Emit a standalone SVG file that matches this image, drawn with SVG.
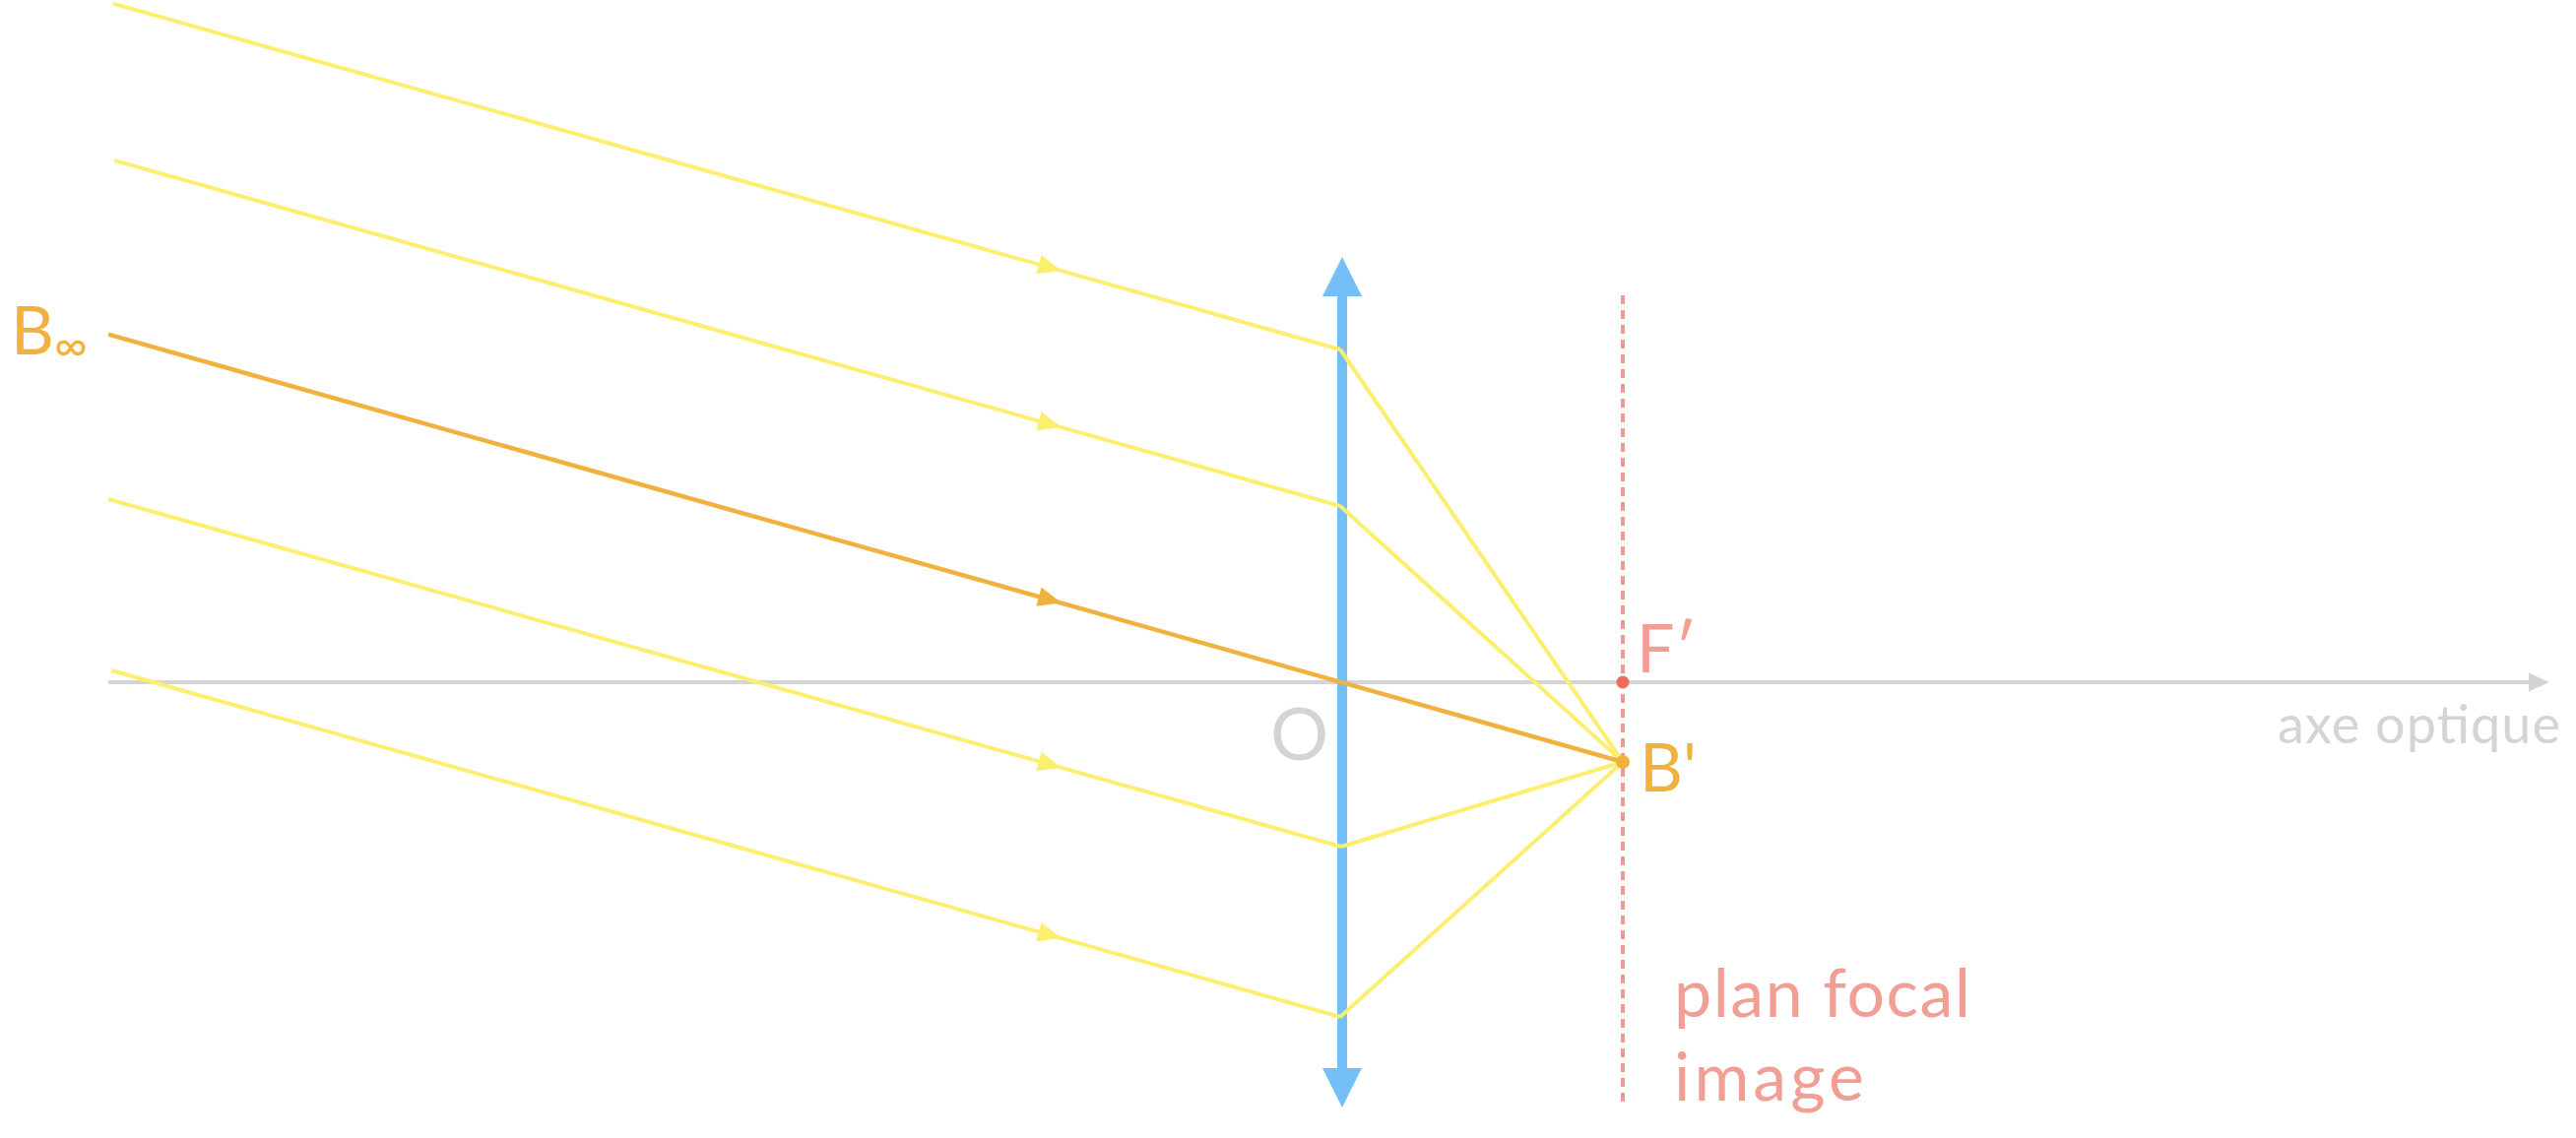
<svg xmlns="http://www.w3.org/2000/svg" width="2616" height="1156" viewBox="0 0 2616 1156">
<style>
.lbl{font-family:Lato,"Open Sans","Liberation Sans",sans-serif;}
.ray{fill:none;stroke:#FCEE6E;stroke-width:4;stroke-linejoin:round}
.chief{fill:none;stroke:#F1B13F;stroke-width:4.5;stroke-linejoin:round}
.inY{marker-mid:url(#arrY)}
.inO{marker-mid:url(#arrO)}
</style>
<defs>
<marker id="arrY" viewBox="0 -10 24 20" refX="24" refY="0" markerWidth="24" markerHeight="20" markerUnits="userSpaceOnUse" orient="auto" overflow="visible">
<path d="M0,-10 L24,0 L0,10 z" fill="#FCEE6E"/>
</marker>
<marker id="arrO" viewBox="0 -10 24 20" refX="24" refY="0" markerWidth="24" markerHeight="20" markerUnits="userSpaceOnUse" orient="auto" overflow="visible">
<path d="M0,-10 L24,0 L0,10 z" fill="#F1B13F"/>
</marker>
</defs>
<rect width="2616" height="1156" fill="#FFFFFF"/>

<g id="axe-optique">
<line x1="110" y1="693" x2="2570" y2="693" stroke="#D4D4D4" stroke-width="4"/>
<polygon points="2589,693 2568,683.5 2568,702.5" fill="#D4D4D4"/>
<text class="lbl" x="2313" y="755" font-size="54" fill="#D4D4D4" textLength="287" lengthAdjust="spacing">axe optique</text>
</g>

<g id="plan-focal">
<line x1="1648" y1="300" x2="1648" y2="1123" stroke="#EE9C93" stroke-width="4" stroke-dasharray="9 6"/>
<text class="lbl" x="1700" y="1033" font-size="68" fill="#F19E94" textLength="301" lengthAdjust="spacing">plan focal</text>
<text class="lbl" x="1700" y="1118" font-size="68" fill="#F19E94" textLength="193" lengthAdjust="spacing">image</text>
</g>

<g id="lentille">
<line x1="1363" y1="300" x2="1363" y2="1086" stroke="#74BFF7" stroke-width="10"/>
<polygon points="1363,261 1343,301 1383,301" fill="#74BFF7"/>
<polygon points="1363,1125 1343,1085 1383,1085" fill="#74BFF7"/>
<text class="lbl" x="1290" y="772" font-size="74" fill="#D4D4D4">O</text>
</g>

<g id="rayons">
<path class="ray inY" d="M115,3.6 L1078,275.2 L1361,355"/>
<path class="ray" d="M1361,355 L1648,774"/>
<path class="ray inY" d="M116,162.9 L1078,434.2 L1361,514"/>
<path class="ray" d="M1361,514 L1648,774"/>
<path class="ray inY" d="M110,507 L1078,779.9 L1362,860"/>
<path class="ray" d="M1362,860 L1648,774"/>
<path class="ray inY" d="M113,681 L1078,953.2 L1361,1033"/>
<path class="ray" d="M1361,1033 L1648,774"/>
<path class="chief inO" d="M110,339.7 L1078,612.6 L1648,774"/>
</g>

<g id="F-prime">
<circle cx="1648" cy="693" r="6.5" fill="#EE6C5C"/>
<text class="lbl" x="1662" y="683" font-size="68" fill="#F19E94">F′</text>
</g>

<g id="B-prime">
<circle cx="1648" cy="774" r="7" fill="#F1B13F"/>
<text class="lbl" x="1665" y="804" font-size="68" fill="#F1B13F">B'</text>
</g>

<g id="B-infini">
<text class="lbl" x="11" y="360" font-size="68" fill="#F1B13F">B</text>
<text class="lbl" x="55" y="367" font-size="46" fill="#F1B13F">∞</text>
</g>
</svg>
